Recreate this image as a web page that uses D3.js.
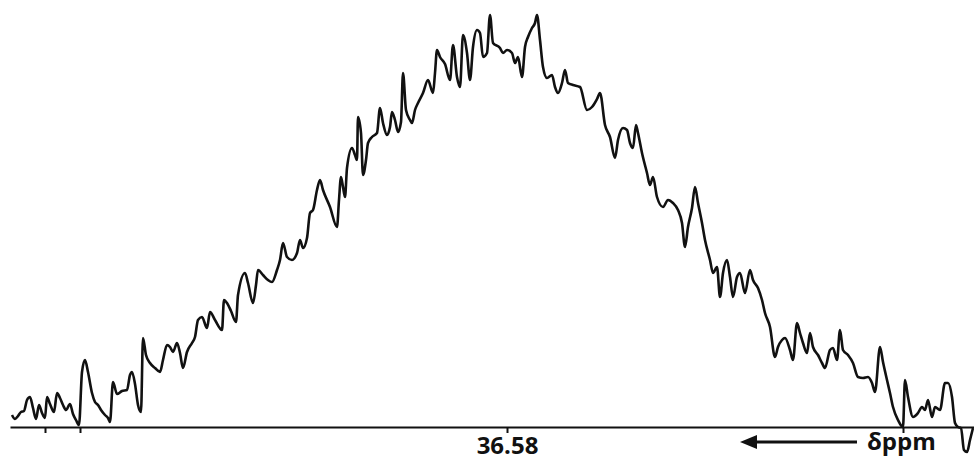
<!DOCTYPE html>
<html>
<head>
<meta charset="utf-8">
<script src="https://cdn.jsdelivr.net/npm/d3@7"></script>
<style>
  body { margin: 0; background: #fff; }
  .spectrum { fill: none; stroke: #111; stroke-width: 2.6; stroke-linejoin: round; }
  .axis path, .axis line { stroke: #111; stroke-width: 2; }
  .axis text { font-family: "Open Sans", sans-serif; font-weight: bold; font-size: 24px; fill: #111; }
  .unit { font-family: "Open Sans", sans-serif; font-weight: bold; font-size: 24px; fill: #111; }
</style>
</head>
<body>
<svg width="974" height="461"></svg>
<script>
// scan position along the shift axis (arbitrary units, right = lower ppm)
var shift = [2,5,8,11,14,17,20,23,26,29,32,35,37,40,44,47,50,53,56,60,63,66,69,72,75,78,82,85,88,91,95,98,100,
  103,107,112,117,120,122,125,128,131,133,136,140,145,150,153,157,160,163,167,170,173,177,182,185,188,192,197,200,
  205,212,214,217,221,226,228,235,238,243,246,248,253,258,262,267,270,273,277,282,287,290,293,297,300,303,307,310,
  313,320,327,329,331,333,335,337,342,345,347,348,351,353,356,358,362,367,370,373,377,380,382,385,388,391,393,396,
  400,402,405,408,413,418,423,425,427,430,435,440,443,447,450,453,457,460,463,467,470,473,477,480,483,490,493,497,
  502,505,508,512,515,518,522,525,527,530,533,537,542,545,548,552,555,558,563,570,577,582,587,590,595,600,605,608,
  613,617,620,623,626,628,632,637,640,643,647,653,658,663,668,672,675,678,682,685,688,692,695,700,703,707,710,713,
  717,720,723,727,730,735,740,743,748,752,755,760,765,768,772,775,780,783,787,790,793,797,800,803,808,812,815,820,
  823,827,830,833,838,843,848,853,858,862,865,870,873,877,880,883,888,893,895,898,903,908,912,915,918,922,925,930,
  935,938,942,945,948,951,954,957,960,963];

// signal intensity (arbitrary units)
var intensity = [12,8,11,15,16,27,30,19,8,22,14,9,30,23,15,34,29,22,17,23,13,7,2,55,67,55,34,25,22,17,12,9,5,
  45,33,36,37,52,55,43,22,15,89,72,64,59,55,67,82,80,75,84,74,59,75,84,90,107,110,99,115,
  107,97,127,124,116,105,132,154,144,124,142,157,152,147,145,157,167,184,170,167,174,187,179,189,214,217,237,247,
  237,220,200,227,250,240,230,259,279,272,267,310,294,252,267,284,290,294,319,304,292,300,315,307,295,305,354,317,
  307,304,317,324,334,347,334,354,377,370,363,347,382,350,340,392,374,347,380,397,394,370,374,412,384,379,374,377,
  374,364,370,350,380,390,399,404,412,387,360,349,352,340,334,344,357,344,342,340,317,320,328,334,302,290,269,287,
  299,297,284,279,302,294,274,254,242,250,230,220,227,224,217,204,180,200,219,240,224,204,187,167,154,160,130,154,
  167,150,130,150,154,134,157,147,139,127,114,100,70,80,87,89,77,67,104,94,84,74,94,80,72,64,59,77,
  79,67,97,77,72,64,50,49,50,44,35,80,65,47,34,20,7,0,47,30,10,14,20,17,27,10,20,17,
  44,44,30,4,0,-1,-23,-25,-13,-1];

var tickShifts = [35, 70, 497, 893];
var tickLabels = ["", "", "36.58", ""];

var svg = d3.select("svg"),
    baseY = 427;

var x = d3.scaleLinear().domain([0, 964]).range([10, 974]),
    y = d3.scaleLinear().domain([0, 412]).range([baseY, 15]);

var data = shift.map(function(s, i) { return {s: s, v: intensity[i]}; });

// x-axis (baseline)
svg.append("g")
    .attr("class", "axis")
    .attr("transform", "translate(0," + baseY + ")")
    .call(d3.axisBottom(x)
      .tickValues(tickShifts)
      .tickSize(6)
      .tickSizeOuter(0)
      .tickPadding(4)
      .tickFormat(function(d, i) { return tickLabels[i]; }));

// spectrum trace
var line = d3.line()
    .x(function(d) { return x(d.s); })
    .y(function(d) { return y(d.v); })
    .curve(d3.curveMonotoneX);

svg.append("path")
    .datum(data)
    .attr("class", "spectrum")
    .attr("d", line);

// direction arrow + unit
var arrowY = 442;
svg.append("line")
    .attr("x1", x(847))
    .attr("x2", x(745))
    .attr("y1", arrowY)
    .attr("y2", arrowY)
    .attr("stroke", "#111")
    .attr("stroke-width", 3);

svg.append("path")
    .attr("d", "M" + x(730) + "," + arrowY + "l17,-7l0,14z")
    .attr("fill", "#111");

svg.append("text")
    .attr("class", "unit")
    .attr("x", x(857))
    .attr("y", 450)
    .text("δppm");
</script>
</body>
</html>
